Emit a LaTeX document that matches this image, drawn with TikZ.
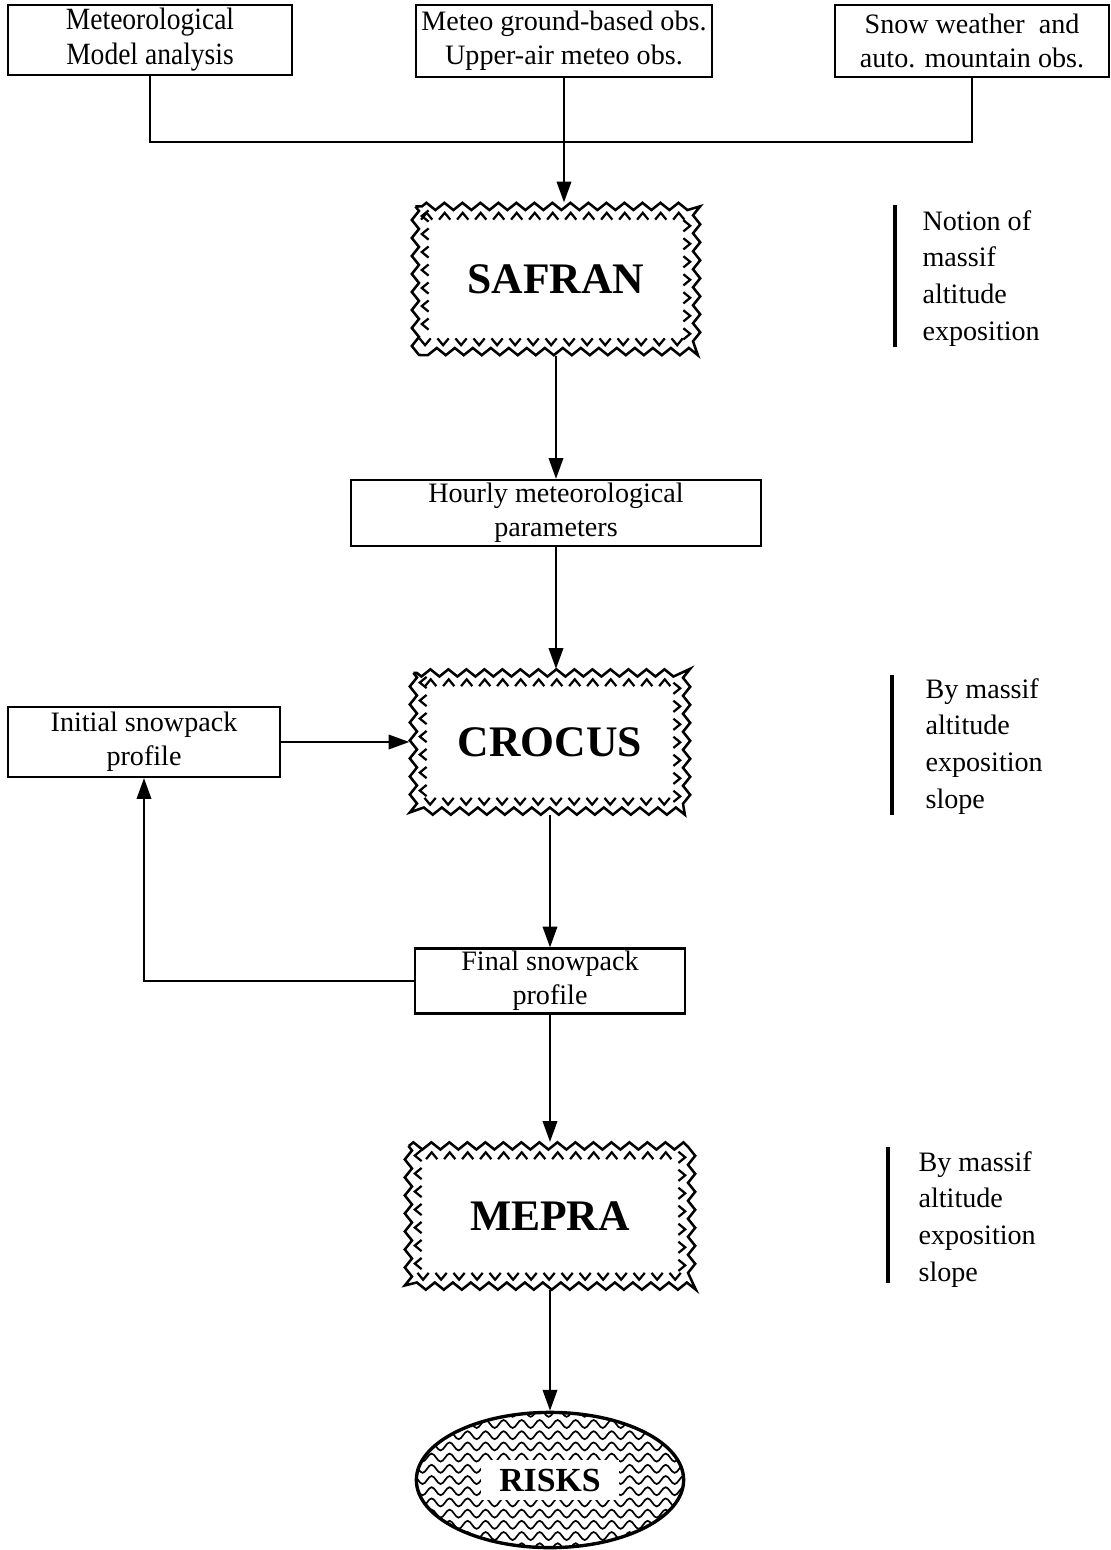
\documentclass[tikz,border=0pt]{standalone}
\usepackage{fontspec}
\setmainfont{Liberation Serif}
\newfontfamily\narrowfont{Liberation Serif}[FakeStretch=0.89]
\usetikzlibrary{arrows.meta,shapes.geometric,decorations.pathmorphing,decorations.markings}

\begin{document}
\begin{tikzpicture}[x=0.0125cm,y=-0.0125cm,
	box/.style={draw,line width=0.8pt,align=center,inner sep=1pt,font=\fontsize{10}{12}\selectfont},
	model/.style={align=center,inner sep=0pt,font=\bfseries\fontsize{15.5}{18}\selectfont},
	zz/.style={line width=0.9pt,decorate,decoration={zigzag,segment length=0.225cm,amplitude=0.045cm}},
	chev/.style={decorate,decoration={markings,mark=between positions 0 and 1 step 0.225cm with
		{\draw[line width=0.8pt] (-0.07cm,0.045cm) -- (0,-0.04cm) -- (0.07cm,0.045cm);}}},
	arr/.style={line width=0.8pt,-{Triangle[length=0.26cm,width=0.18cm]}},
	ln/.style={line width=0.8pt},
	note/.style={align=left,anchor=north west,inner sep=0pt,font=\fontsize{10}{13}\selectfont},
	bar/.style={line width=1.1pt},
	risk/.style={ellipse,draw,line width=1.2pt,minimum width=3.34cm,minimum height=1.69cm,inner sep=0pt,
		font=\bfseries\fontsize{12}{14}\selectfont,
		path picture={
			\foreach \k in {-7,...,7}
			\draw[line width=0.6pt,decorate,decoration={snake,segment length=0.225cm,amplitude=0.05cm}]
			([shift={(-2cm,\k*0.14cm)}]path picture bounding box.center) -- ++(4cm,0);
			\fill[white] ([shift={(-0.86cm,-0.25cm)}]path picture bounding box.center) rectangle ++(1.72cm,0.5cm);
		}}]
	\useasboundingbox (0,0) rectangle (1110,1550);
	% observations
	\node[box,minimum width=3.55cm,minimum height=0.875cm,font=\narrowfont\fontsize{11}{12.4}\selectfont] (O1) at (150,40) {Meteorological\\Model analysis};
	\node[box,minimum width=3.7cm,minimum height=0.9cm] (O2) at (564,41) {Meteo ground-based obs.\\Upper-air meteo obs.};
	\node[box,minimum width=3.425cm,minimum height=0.9cm] (O3) at (972,41) {Snow weather~ and\\auto. mountain obs.};
	\coordinate (J) at (564,142);
	% models
	\node[model,minimum width=3.6cm,minimum height=1.9cm] (SAF) at (556,279) {SAFRAN};
	\node[box,minimum width=5.125cm,minimum height=0.825cm] (HP) at (556,513) {Hourly meteorological\\parameters};
	\node[model,minimum width=3.5cm,minimum height=1.8125cm] (CRO) at (550,742) {CROCUS};
	\node[box,minimum width=3.4cm,minimum height=0.875cm] (ISP) at (144,742) {Initial snowpack\\profile};
	\node[box,minimum width=3.375cm,minimum height=0.775cm] (FSP) at (550,981) {Final snowpack\\profile};
	\node[model,minimum width=3.625cm,minimum height=1.8375cm] (MEP) at (550,1216) {MEPRA};
	\node[risk] (RSK) at (550,1480) {RISKS};
	\foreach \n in {SAF,CRO,MEP}{
		\draw[zz] ([shift={(0.05cm,-0.05cm)}]\n.north west) rectangle ([shift={(-0.05cm,0.05cm)}]\n.south east);
		\path[chev] ([shift={(0.17cm,-0.17cm)}]\n.north west) rectangle ([shift={(-0.17cm,0.17cm)}]\n.south east);
	}
	% notes
	\node[note] (N1) at (922,210) {Notion of\\massif\\altitude\\exposition};
	\node[note] (N2) at (925,678) {By massif\\altitude\\exposition\\slope};
	\node[note] (N3) at (918,1151) {By massif\\altitude\\exposition\\slope};
	\draw[bar] (895,205) -- (895,347);
	\draw[bar] (892,675) -- (892,815);
	\draw[bar] (888,1147) -- (888,1283);
	% links
	\draw[ln] (O1.south) |- (J) -| (O3.south);
	\draw
	(O2.south) edge[arr] (O2.south |- SAF.north)
	(SAF.south) edge[arr] (SAF.south |- HP.north)
	(HP.south) edge[arr] (HP.south |- CRO.north)
	(ISP.east) edge[arr] (CRO.west)
	(CRO.south) edge[arr] (CRO.south |- FSP.north)
	(FSP.south) edge[arr] (FSP.south |- MEP.north)
	(MEP.south) edge[arr] (MEP.south |- RSK.north);
	\draw[arr] (FSP.west) -| (ISP.south);
\end{tikzpicture}
\end{document}
